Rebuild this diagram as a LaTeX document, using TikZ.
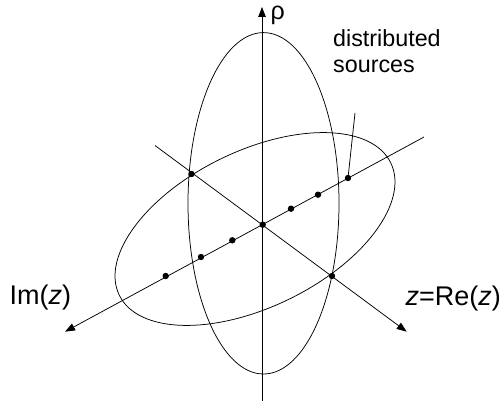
\documentclass[tikz,border=0pt]{standalone}
\usepackage{fontspec}
\setmainfont{Liberation Sans}
\usetikzlibrary{arrows.meta}
\begin{document}
\begin{tikzpicture}[x=1pt,y=-1pt,
  ln/.style={line width=0.75pt},
  tipped/.style={ln,-{Triangle[length=10pt,width=7.5pt]}},
  dot/.style={circle,fill,inner sep=0pt,minimum size=6.4pt},
  biglbl/.style={inner sep=0pt,font=\fontsize{27}{30}\selectfont},
  rholbl/.style={inner sep=0pt,font=\fontsize{25}{26}\selectfont},
  smalllbl/.style={inner sep=0pt,font=\fontsize{23.3}{26}\selectfont,align=left}]
\useasboundingbox (0,0) rectangle (503,401);
% axes end points
\coordinate (vb) at (262,401);
\coordinate (vt) at (262,7);
\coordinate (imend) at (424,137);
\coordinate (imtip) at (65,331.7);
\coordinate (dgend) at (155,145.5);
\coordinate (dgtip) at (406.7,331.7);
\coordinate (vc) at (263.5,203.3);
\coordinate (tc) at (255,229);
\coordinate (lead) at (355,113);
% ellipses
\draw[ln] (vc) ellipse [x radius=75.5pt, y radius=170.7pt];
\draw[ln, rotate around={26:(tc)}] (tc) ellipse [x radius=151pt, y radius=78pt];
% axes
\draw[tipped] (vb) -- (vt);
\draw[tipped] (imend) -- (imtip);
\draw[tipped] (dgend) -- (dgtip);
% dots
\node[dot] (d1) at (165.7,276) {};
\node[dot] (d2) at (201,257) {};
\node[dot] (d3) at (232.3,240.3) {};
\node[dot] (o)  at (262.7,224.7) {};
\node[dot] (d5) at (291,208.7) {};
\node[dot] (d6) at (318,194.7) {};
\node[dot] (d7) at (348,178) {};
\node[dot] (x1) at (191.5,174) {};
\node[dot] (x2) at (332,276) {};
% leader
\draw[ln] (lead) -- (d7.center);
% labels
\node[rholbl, anchor=base west] (rho) at (270.5,19.5) {ρ};
\node[biglbl, anchor=base west] (im) at (9.5,304.5) {Im(\textit{z})};
\node[biglbl, anchor=base west] (re) at (405.5,305) {\textit{z}=Re(\textit{z})};
\node[smalllbl, anchor=base west] (ds) at (333,73) {distributed\\sources};
\end{tikzpicture}
\end{document}
